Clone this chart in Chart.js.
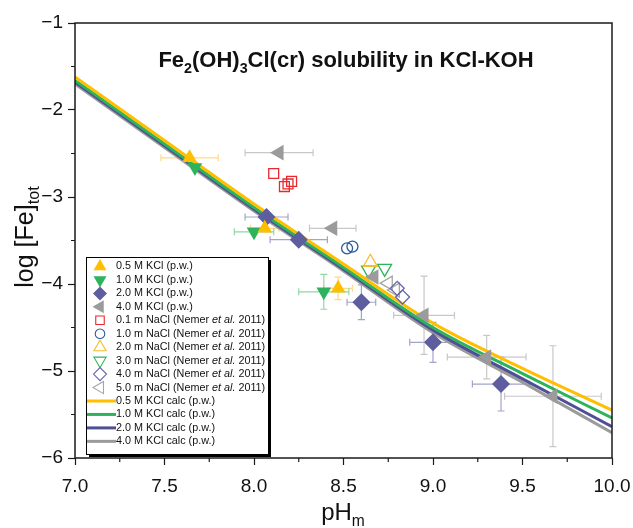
<!DOCTYPE html>
<html><head><meta charset="utf-8">
<script src="https://cdn.jsdelivr.net/npm/chart.js@4.4.1/dist/chart.umd.min.js"></script>
<style>html,body{margin:0;padding:0;background:#fff}#wrap{width:633px;height:528px}</style>
</head><body><div id="wrap"><canvas id="c" width="633" height="528"></canvas></div>
<script>
// ---------- data ----------
const kcl05_x = [7.64, 8.06, 8.47];
const kcl05_y = [-2.55, -3.36, -4.05];
const kcl05_xerr = [0.16, 0.08, 0.08];
const kcl05_yerr = [0, 0, 0.13];

const kcl10_x = [7.67, 8.00, 8.39];
const kcl10_y = [-2.66, -3.40, -4.09];
const kcl10_xerr = [0, 0.11, 0.14];
const kcl10_yerr = [0, 0, 0.20];

const kcl20_x = [8.07, 8.25, 8.60, 9.00, 9.38];
const kcl20_y = [-3.23, -3.49, -4.21, -4.67, -5.15];
const kcl20_xerr = [0.12, 0.16, 0.08, 0.13, 0.16];
const kcl20_yerr = [0, 0, 0.20, 0.23, 0.31];

const kcl40_x = [8.14, 8.44, 8.67, 8.95, 9.30, 9.67];
const kcl40_y = [-2.49, -3.36, -3.92, -4.36, -4.84, -5.29];
const kcl40_xerr = [0.19, 0.13, 0, 0.17, 0.22, 0.27];
const kcl40_yerr = [0, 0, 0, 0.45, 0.25, 0.58];

const nacl01_x = [8.11, 8.17, 8.19, 8.21];
const nacl01_y = [-2.73, -2.88, -2.85, -2.82];
const nacl1_x = [8.52, 8.55];
const nacl1_y = [-3.59, -3.57];
const nacl2_x = [8.65];
const nacl2_y = [-3.75];
const nacl3_x = [8.64, 8.73];
const nacl3_y = [-3.84, -3.82];
const nacl4_x = [8.80, 8.83];
const nacl4_y = [-4.05, -4.15];
const nacl5_x = [8.75, 8.79];
const nacl5_y = [-3.99, -4.07];

const calc_x = [7.0, 7.5, 8.0, 8.5, 9.0, 9.5, 10.0];
const calc05 = [-1.62, -2.35, -3.08, -3.77, -4.45, -4.97, -5.45];
const calc10 = [-1.66, -2.39, -3.12, -3.81, -4.50, -5.03, -5.54];
const calc20 = [-1.68, -2.41, -3.14, -3.83, -4.53, -5.09, -5.64];
const calc40 = [-1.70, -2.43, -3.16, -3.85, -4.56, -5.13, -5.71];

const xTickValues = [7.0, 7.5, 8.0, 8.5, 9.0, 9.5, 10.0];
const yTickValues = [-6, -5, -4, -3, -2, -1];

// ---------- style ----------
const FONT = "'Liberation Sans', Arial, Helvetica, sans-serif";
const C_Y = '#FFBF00', C_G = '#2DB35C', C_P = '#5E5E9F', C_GR = '#9B9B9B';
const zip = (xs, ys) => xs.map((v, i) => ({x: v, y: ys[i]}));

function ptSet(label, xs, ys, style, rot, r, color, open, xerr, yerr, errColor, lr) {
  return {
    label, data: zip(xs, ys), showLine: false,
    pointStyle: style, rotation: rot, pointRadius: r, pointHoverRadius: r,
    backgroundColor: open ? 'rgba(0,0,0,0)' : color,
    borderColor: color, pointBorderWidth: open ? 1.3 : 0, borderWidth: open ? 1.3 : 0,
    xerr, yerr, errColor, order: 1, legR: lr, legOpen: open
  };
}
function lineSet(label, ys, color) {
  return {
    label, data: zip(calc_x, ys), showLine: true, pointRadius: 0, pointHoverRadius: 0,
    borderColor: color, backgroundColor: color, borderWidth: 3,
    cubicInterpolationMode: 'monotone', order: 10, isLine: true
  };
}

const datasets = [
  ptSet('0.5 M KCl (p.w.)', kcl05_x, kcl05_y, 'triangle', 0, 8.5, C_Y, false, kcl05_xerr, kcl05_yerr, '#FFD98A', 7.5),
  ptSet('1.0 M KCl (p.w.)', kcl10_x, kcl10_y, 'triangle', 180, 8.5, C_G, false, kcl10_xerr, kcl10_yerr, '#8FD8A6', 7.5),
  ptSet('2.0 M KCl (p.w.)', kcl20_x, kcl20_y, 'rectRot', 0, 9, C_P, false, kcl20_xerr, kcl20_yerr, '#A3A3CC', 7),
  ptSet('4.0 M KCl (p.w.)', kcl40_x, kcl40_y, 'triangle', 270, 9, C_GR, false, kcl40_xerr, kcl40_yerr, '#C8C8C8', 7.5),
  ptSet('0.1 m NaCl (Nemer et al. 2011)', nacl01_x, nacl01_y, 'rect', 0, 7, '#E8282C', true, null, null, null, 6),
  ptSet('1.0 m NaCl (Nemer et al. 2011)', nacl1_x, nacl1_y, 'circle', 0, 5.5, '#2A5C9C', true, null, null, null, 4.8),
  ptSet('2.0 m NaCl (Nemer et al. 2011)', nacl2_x, nacl2_y, 'triangle', 0, 8, '#F5BD2A', true, null, null, null, 7),
  ptSet('3.0 m NaCl (Nemer et al. 2011)', nacl3_x, nacl3_y, 'triangle', 180, 8, C_G, true, null, null, null, 7),
  ptSet('4.0 m NaCl (Nemer et al. 2011)', nacl4_x, nacl4_y, 'rectRot', 0, 7, '#6464AA', true, null, null, null, 6.5),
  ptSet('5.0 m NaCl (Nemer et al. 2011)', nacl5_x, nacl5_y, 'triangle', 270, 8, '#A6A6A6', true, null, null, null, 7),
  lineSet('0.5 M KCl calc (p.w.)', calc05, C_Y),
  lineSet('1.0 M KCl calc (p.w.)', calc10, C_G),
  lineSet('2.0 M KCl calc (p.w.)', calc20, '#4F4F96'),
  lineSet('4.0 M KCl calc (p.w.)', calc40, C_GR)
];
datasets[10].order = 10; datasets[11].order = 11; datasets[12].order = 12; datasets[13].order = 13;

// ---------- helpers ----------
function drawSeg(ctx, segs, size, x, y, align, weight) {
  const w = segs.map(s => { ctx.font = `${weight} ${s[1] ? size * 0.65 : size}px ${FONT}`; return ctx.measureText(s[0]).width; });
  const total = w.reduce((a, b) => a + b, 0);
  let cx = align === 'center' ? x - total / 2 : x;
  segs.forEach((s, i) => {
    ctx.font = `${weight} ${s[1] ? size * 0.65 : size}px ${FONT}`;
    ctx.fillText(s[0], cx, s[1] ? y + size * 0.25 : y);
    cx += w[i];
  });
}
function marker(ctx, style, rot, x, y, r, fill, stroke, lw) {
  ctx.save();
  ctx.translate(x, y);
  ctx.rotate(rot * Math.PI / 180);
  ctx.beginPath();
  if (style === 'triangle') {
    for (let k = 0; k < 3; k++) {
      const a = k * 2 * Math.PI / 3;
      const px = Math.sin(a) * r, py = -Math.cos(a) * r;
      k ? ctx.lineTo(px, py) : ctx.moveTo(px, py);
    }
    ctx.closePath();
  } else if (style === 'rectRot') {
    ctx.moveTo(-r, 0); ctx.lineTo(0, -r); ctx.lineTo(r, 0); ctx.lineTo(0, r); ctx.closePath();
  } else if (style === 'rect') {
    const s = r * Math.SQRT1_2; ctx.rect(-s, -s, 2 * s, 2 * s);
  } else {
    ctx.arc(0, 0, r, 0, Math.PI * 2);
  }
  if (fill) { ctx.fillStyle = fill; ctx.fill(); }
  if (lw) { ctx.lineWidth = lw; ctx.strokeStyle = stroke; ctx.stroke(); }
  ctx.restore();
}

// ---------- plugins ----------
const errPlugin = {
  id: 'errbars',
  beforeDatasetsDraw(chart) {
    const {ctx, scales: {x, y}, chartArea: ca} = chart;
    ctx.save();
    ctx.beginPath(); ctx.rect(ca.left, ca.top, ca.right - ca.left, ca.bottom - ca.top); ctx.clip();
    chart.data.datasets.forEach(ds => {
      if (!ds.xerr && !ds.yerr) return;
      ctx.strokeStyle = ds.errColor; ctx.lineWidth = 1.2;
      const cap = 3.5;
      ds.data.forEach((p, i) => {
        const px = x.getPixelForValue(p.x), py = y.getPixelForValue(p.y);
        const xe = ds.xerr ? ds.xerr[i] : 0, ye = ds.yerr ? ds.yerr[i] : 0;
        ctx.beginPath();
        if (xe > 0) {
          const x1 = x.getPixelForValue(p.x - xe), x2 = x.getPixelForValue(p.x + xe);
          ctx.moveTo(x1, py); ctx.lineTo(x2, py);
          ctx.moveTo(x1, py - cap); ctx.lineTo(x1, py + cap);
          ctx.moveTo(x2, py - cap); ctx.lineTo(x2, py + cap);
        }
        if (ye > 0) {
          const y1 = y.getPixelForValue(p.y - ye), y2 = y.getPixelForValue(p.y + ye);
          ctx.moveTo(px, y1); ctx.lineTo(px, y2);
          ctx.moveTo(px - cap, y1); ctx.lineTo(px + cap, y1);
          ctx.moveTo(px - cap, y2); ctx.lineTo(px + cap, y2);
        }
        ctx.stroke();
      });
    });
    ctx.restore();
  }
};

const decoPlugin = {
  id: 'deco',
  afterDraw(chart) {
    const {ctx, scales: {x, y}, chartArea: ca} = chart;
    ctx.save();
    ctx.strokeStyle = '#1a1a1a'; ctx.lineWidth = 1.5;
    ctx.strokeRect(ca.left, ca.top, ca.right - ca.left, ca.bottom - ca.top);
    ctx.lineWidth = 1.2; ctx.beginPath();
    for (let k = 0; k < xTickValues.length - 1; k++) {
      const v = (xTickValues[k] + xTickValues[k + 1]) / 2, px = x.getPixelForValue(v);
      ctx.moveTo(px, ca.bottom); ctx.lineTo(px, ca.bottom + 4);
    }
    for (let k = 0; k < yTickValues.length - 1; k++) {
      const v = (yTickValues[k] + yTickValues[k + 1]) / 2, py = y.getPixelForValue(v);
      ctx.moveTo(ca.left, py); ctx.lineTo(ca.left - 4, py);
    }
    ctx.stroke();
    ctx.fillStyle = '#111'; ctx.textBaseline = 'alphabetic';
    drawSeg(ctx, [['Fe', 0], ['2', 1], ['(OH)', 0], ['3', 1], ['Cl(cr) solubility in KCl-KOH', 0]], 22, 346, 67, 'center', 'bold');
    drawSeg(ctx, [['pH', 0], ['m', 1]], 24, 343, 520, 'center', 'normal');
    ctx.save();
    ctx.translate(33, 237); ctx.rotate(-Math.PI / 2);
    drawSeg(ctx, [['log [Fe]', 0], ['tot', 1]], 25, 0, 0, 'center', 'normal');
    ctx.restore();

    // legend
    const L = 86, T = 257, W = 182, H = 197;
    ctx.fillStyle = '#000'; ctx.fillRect(L + 3, T + 3, W, H);
    ctx.fillStyle = '#fff'; ctx.fillRect(L, T, W, H);
    ctx.strokeStyle = '#000'; ctx.lineWidth = 1; ctx.strokeRect(L + 0.5, T + 0.5, W, H);
    const dsl = chart.data.datasets;
    ctx.textBaseline = 'middle';
    dsl.forEach((ds, i) => {
      const cy = T + 9.5 + i * 13.45;
      if (ds.isLine) {
        ctx.strokeStyle = ds.borderColor; ctx.lineWidth = 3;
        ctx.beginPath(); ctx.moveTo(L + 1, cy); ctx.lineTo(L + 30, cy); ctx.stroke();
      } else {
        marker(ctx, ds.pointStyle, ds.rotation, L + 14, cy, ds.legR,
          ds.legOpen ? null : ds.borderColor, ds.borderColor, ds.legOpen ? 1.1 : 0);
      }
      ctx.fillStyle = '#111';
      const parts = ds.label.split('et al.');
      let cx = L + 30;
      ctx.font = `10.8px ${FONT}`;
      ctx.fillText(parts[0], cx, cy); cx += ctx.measureText(parts[0]).width;
      if (parts.length > 1) {
        ctx.font = `italic 10.8px ${FONT}`;
        ctx.fillText('et al.', cx, cy); cx += ctx.measureText('et al.').width;
        ctx.font = `10.8px ${FONT}`;
        ctx.fillText(parts[1], cx, cy);
      }
    });
    ctx.restore();
  }
};

new Chart(document.getElementById('c'), {
  type: 'scatter',
  data: {datasets},
  options: {
    responsive: false, animation: false, devicePixelRatio: 1,
    layout: {padding: {left: 0, right: 21, top: 23, bottom: 0}},
    plugins: {legend: {display: false}, tooltip: {enabled: false}},
    scales: {
      x: {
        type: 'linear', min: 7, max: 10,
        afterFit(s) { s.height = 70; s.paddingLeft = 0; s.paddingRight = 0; },
        afterBuildTicks(s) { s.ticks = xTickValues.map(v => ({value: v})); },
        border: {display: false},
        grid: {drawOnChartArea: false, drawTicks: true, tickLength: 7, tickColor: '#1a1a1a', tickWidth: 1.2},
        ticks: {font: {family: FONT, size: 19}, color: '#111', padding: 10, maxRotation: 0, autoSkip: false,
          callback: v => Number(v).toFixed(1)}
      },
      y: {
        type: 'linear', min: -6, max: -1,
        afterFit(s) { s.width = 75; s.paddingTop = 0; s.paddingBottom = 0; },
        afterBuildTicks(s) { s.ticks = yTickValues.map(v => ({value: v})); },
        border: {display: false},
        grid: {drawOnChartArea: false, drawTicks: true, tickLength: 7, tickColor: '#1a1a1a', tickWidth: 1.2},
        ticks: {font: {family: FONT, size: 19}, color: '#111', padding: 5, autoSkip: false,
          callback: v => String(v).replace('-', '\u2212')}
      }
    }
  },
  plugins: [errPlugin, decoPlugin]
});
</script></body></html>
